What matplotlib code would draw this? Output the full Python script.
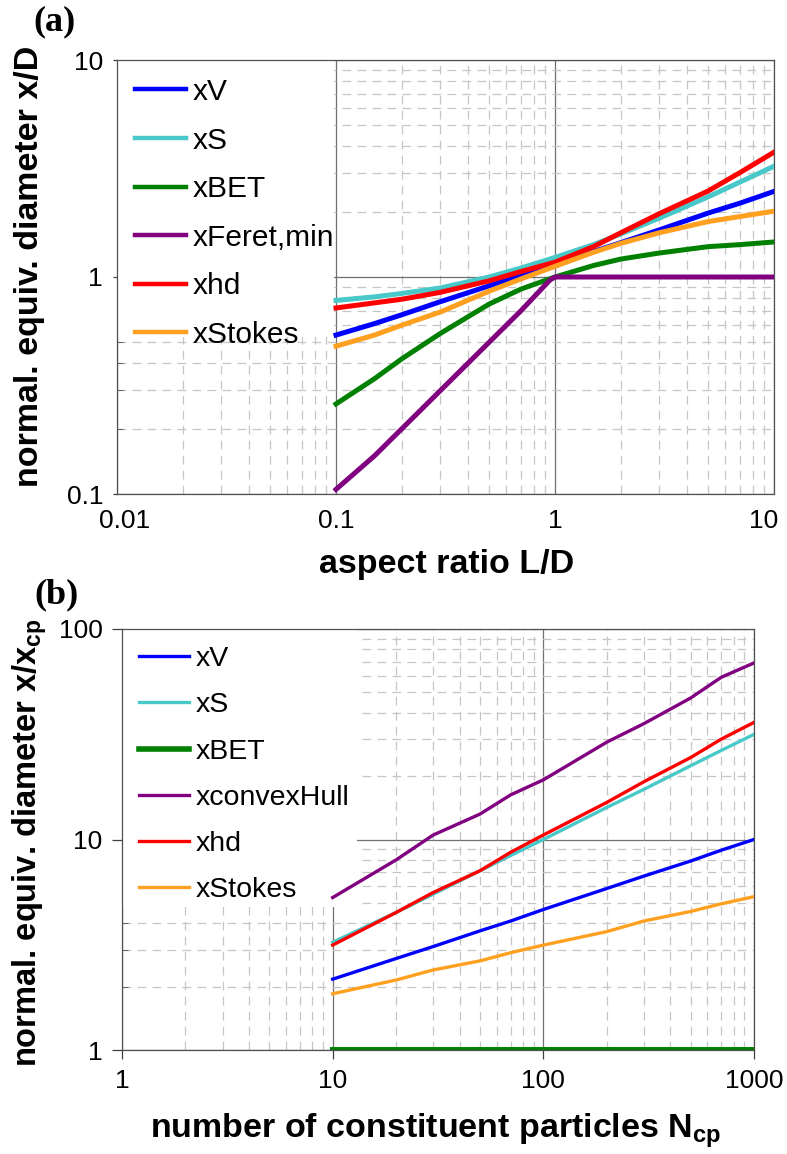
import numpy as np
import matplotlib
matplotlib.use('Agg')
import matplotlib.pyplot as plt
from matplotlib.patches import Rectangle
from matplotlib.transforms import ScaledTranslation
from matplotlib.ticker import FuncFormatter, LogLocator, NullFormatter

plt.rcParams['font.family'] = ['Liberation Sans', 'DejaVu Sans']
plt.rcParams['mathtext.fontset'] = 'custom'
plt.rcParams['mathtext.rm'] = 'Liberation Sans'
plt.rcParams['mathtext.bf'] = 'Liberation Sans:bold'

# ---- panel (a): cylinders, x/D vs aspect ratio L/D
aspect_ratio = [0.1, 0.15, 0.2, 0.3, 0.5, 0.7, 1.0, 1.5, 2.0, 3.0, 5.0, 7.0, 10.0]
a_xV = [0.54, 0.61, 0.67, 0.77, 0.91, 1.02, 1.15, 1.31, 1.44, 1.65, 1.97, 2.19, 2.48]
a_xS = [0.78, 0.81, 0.84, 0.89, 1.00, 1.10, 1.23, 1.41, 1.58, 1.87, 2.34, 2.74, 3.24]
a_xBET = [0.26, 0.34, 0.42, 0.55, 0.75, 0.88, 1.00, 1.13, 1.21, 1.29, 1.38, 1.41, 1.45]
a_xhd = [0.72, 0.76, 0.79, 0.85, 0.96, 1.06, 1.17, 1.38, 1.60, 1.96, 2.49, 3.03, 3.76]
a_xStokes = [0.48, 0.54, 0.60, 0.69, 0.86, 0.98, 1.12, 1.30, 1.43, 1.60, 1.80, 1.90, 2.01]
feret_ratio = [0.1, 0.15, 0.2, 0.3, 0.5, 0.7, 0.95, 1.0, 2.0, 5.0, 10.0]
a_xFeret = [0.105, 0.15, 0.20, 0.30, 0.50, 0.70, 0.97, 1.0, 1.0, 1.0, 1.0]

# ---- panel (b): aggregates, x/x_cp vs number of constituent particles
n_cp = [10, 20, 30, 50, 70, 100, 200, 300, 500, 700, 1000]
b_xV = [2.17, 2.72, 3.10, 3.68, 4.10, 4.65, 5.85, 6.70, 7.90, 8.90, 10.0]
b_xS = [3.25, 4.50, 5.50, 7.10, 8.40, 10.0, 14.2, 17.3, 22.4, 26.5, 31.6]
b_xBET = [1.0, 1.0, 1.0, 1.0, 1.0, 1.0, 1.0, 1.0, 1.0, 1.0, 1.0]
b_xHull = [5.30, 8.00, 10.5, 13.2, 16.3, 19.2, 29.0, 35.5, 47.0, 59.0, 69.0]
b_xhd = [3.15, 4.50, 5.60, 7.10, 8.70, 10.5, 15.0, 18.8, 24.5, 30.0, 36.0]
b_xStokes = [1.85, 2.15, 2.40, 2.65, 2.90, 3.15, 3.65, 4.10, 4.55, 4.95, 5.35]

C_BLUE, C_CYAN, C_GREEN = '#0000ff', '#48c8c8', '#008000'
C_PURPLE, C_RED, C_ORANGE = '#800080', '#ff0000', '#ffa020'

W, H = 787, 1154
fig = plt.figure(figsize=(W / 100, H / 100), dpi=100)


def px_axes(left, top, right, bottom):
    return fig.add_axes([left / W, 1 - bottom / H, (right - left) / W, (bottom - top) / H])


def style_log_axes(ax, xlim, ylim, major_len_x, major_len_y, pad_x):
    ax.set_xscale('log')
    ax.set_yscale('log')
    ax.set_xlim(*xlim)
    ax.set_ylim(*ylim)
    fmt = FuncFormatter(lambda v, p: '%g' % v)
    for axis in (ax.xaxis, ax.yaxis):
        axis.set_major_formatter(fmt)
        axis.set_minor_locator(LogLocator(base=10, subs=range(2, 10), numticks=20))
        axis.set_minor_formatter(NullFormatter())
    ax.set_axisbelow(True)
    ax.grid(which='minor', color='#c6c6c6', linestyle=(0, (7, 5)), linewidth=0.9)
    ax.grid(which='major', color='#707070', linestyle='-', linewidth=0.9)
    ax.tick_params(axis='x', which='major', length=major_len_x, width=0.9, pad=pad_x,
                   labelsize=19, color='#404040')
    ax.tick_params(axis='y', which='major', length=major_len_y, width=0.9, pad=7,
                   labelsize=19, color='#404040')
    ax.tick_params(axis='x', which='minor', length=0)
    ax.tick_params(axis='y', which='minor', direction='in', length=4, width=0.7,
                   color='#606060')
    for sp in ax.spines.values():
        sp.set_color('#505050')
        sp.set_linewidth(0.9)


def shift_label(ax, value, dx_px):
    for lab in ax.get_xticklabels():
        if lab.get_text() == '%g' % value:
            lab.set_transform(lab.get_transform() +
                              ScaledTranslation(dx_px / 100, 0, fig.dpi_scale_trans))


# ---------------- panel (a)
ax_a = px_axes(117, 60, 774, 494)
style_log_axes(ax_a, (0.01, 10), (0.1, 10), 0, 3, 10.5)
ax_a.add_patch(Rectangle((0, 0.362), 0.331, 0.638, transform=ax_a.transAxes,
                         facecolor='white', edgecolor='none', zorder=1))
lw_a = 3.6
ax_a.plot(aspect_ratio, a_xV, color=C_BLUE, lw=lw_a, label='xV', zorder=3)
ax_a.plot(aspect_ratio, a_xS, color=C_CYAN, lw=lw_a, label='xS', zorder=3)
ax_a.plot(aspect_ratio, a_xBET, color=C_GREEN, lw=lw_a, label='xBET', zorder=3)
ax_a.plot(feret_ratio, a_xFeret, color=C_PURPLE, lw=lw_a, label='xFeret,min', zorder=3)
ax_a.plot(aspect_ratio, a_xhd, color=C_RED, lw=lw_a, label='xhd', zorder=3)
ax_a.plot(aspect_ratio, a_xStokes, color=C_ORANGE, lw=lw_a, label='xStokes', zorder=3)
leg_a = ax_a.legend(loc='upper left', bbox_to_anchor=(0, 1), frameon=False, fontsize=21.5,
                    handlelength=1.7, handletextpad=0.25, labelspacing=0.69,
                    borderpad=0.5, borderaxespad=0.1)
for h in leg_a.get_lines():
    h.set_linewidth(3.2)

# ---------------- panel (b)
ax_b = px_axes(122, 629, 754, 1050)
style_log_axes(ax_b, (1, 1000), (1, 100), 6.5, 7, 7)
ax_b.add_patch(Rectangle((0, 0.34), 0.372, 0.66, transform=ax_b.transAxes,
                         facecolor='white', edgecolor='none', zorder=1))
lw_b = 2.4
ax_b.plot(n_cp, b_xV, color=C_BLUE, lw=lw_b, label='xV', zorder=3)
ax_b.plot(n_cp, b_xS, color=C_CYAN, lw=lw_b, label='xS', zorder=3)
ax_b.plot(n_cp, b_xBET, color=C_GREEN, lw=5, label='xBET', zorder=3)
ax_b.plot(n_cp, b_xHull, color=C_PURPLE, lw=lw_b, label='xconvexHull', zorder=3)
ax_b.plot(n_cp, b_xhd, color=C_RED, lw=lw_b, label='xhd', zorder=3)
ax_b.plot(n_cp, b_xStokes, color=C_ORANGE, lw=lw_b, label='xStokes', zorder=3)
leg_b = ax_b.legend(loc='upper left', bbox_to_anchor=(0, 1), frameon=False, fontsize=20.5,
                    handlelength=1.75, handletextpad=0.25, labelspacing=0.71,
                    borderpad=0.4, borderaxespad=0.2)
for h, lw in zip(leg_b.get_lines(), [2.4, 2.4, 4.0, 2.4, 2.4, 2.4]):
    h.set_linewidth(lw)

fig.canvas.draw()
shift_label(ax_a, 0.01, 8)
shift_label(ax_a, 10, -10)

# ---------------- labels
fig.text(30 / W, 1 - 46 / H, 'normal. equiv. diameter x/D', rotation=90,
         ha='center', va='top', fontsize=24.5, fontweight='bold')
fig.text(447 / W, 1 - 573 / H, 'aspect ratio L/D', ha='center', va='baseline',
         fontsize=24.5, fontweight='bold')
fig.text(30 / W, 1 - 618 / H, r'normal. equiv. diameter x/x$_\mathbf{cp}$', rotation=90,
         ha='center', va='top', fontsize=23.5, fontweight='bold')
fig.text(436 / W, 1 - 1137 / H, r'number of constituent particles N$_\mathbf{cp}$',
         ha='center', va='baseline', fontsize=24.5, fontweight='bold')

panel = dict(fontsize=26, fontweight='bold', family=['Liberation Serif', 'DejaVu Serif'],
             ha='center', va='center')
fig.text(54 / W, 1 - 22 / H, '(a)', **panel)
fig.text(57 / W, 1 - 595 / H, '(b)', **panel)

fig.savefig('out.png', dpi=100)
